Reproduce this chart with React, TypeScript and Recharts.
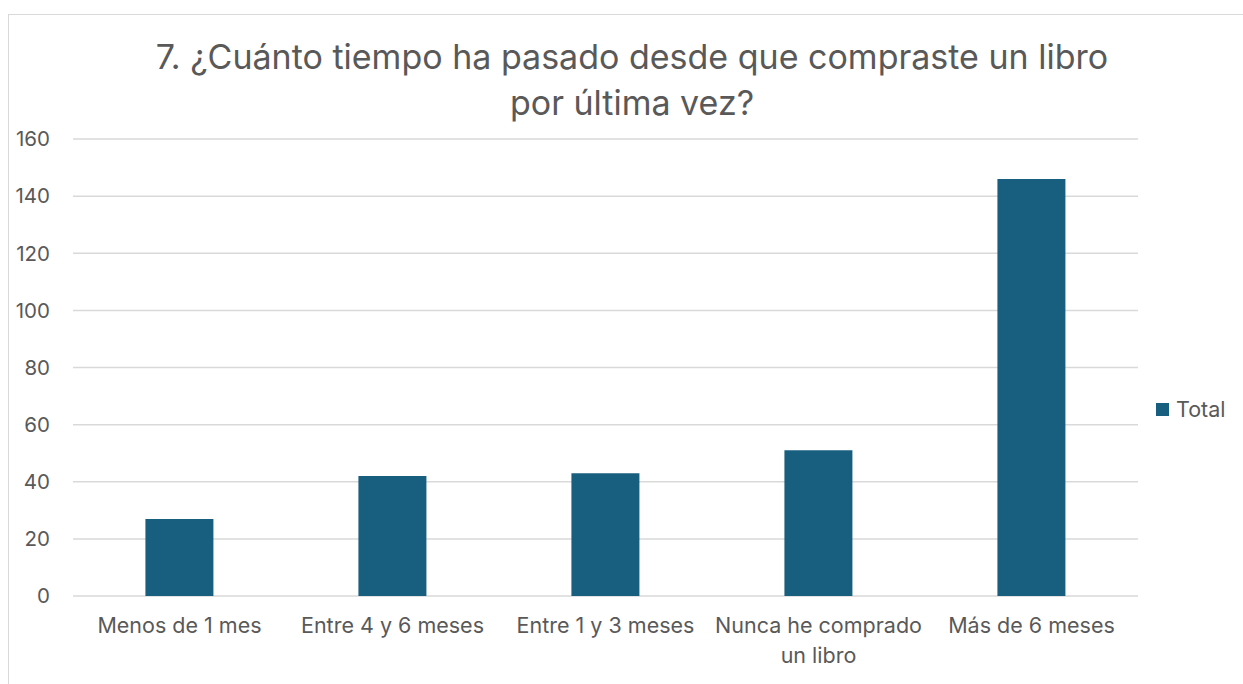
import { BarChart, Bar, XAxis, YAxis, CartesianGrid } from "recharts";

const categories = [
  "Menos de 1 mes",
  "Entre 4 y 6 meses",
  "Entre 1 y 3 meses",
  "Nunca he comprado un libro",
  "Más de 6 meses",
];
const totals = [27, 42, 43, 51, 146];
const yTicks = [0, 20, 40, 60, 80, 100, 120, 140, 160];

const data = categories.map((c, i) => ({ categoria: c, total: totals[i] }));

const font = "Inter, 'Open Sans', sans-serif";
const grey = "#595959";
const barColor = "#185f7f";

// split a label into lines of at most `max` characters
const wrap = (s: string, max: number) => {
  const lines: string[] = [];
  let cur = "";
  for (const w of s.split(" ")) {
    const next = cur ? cur + " " + w : w;
    if (next.length > max && cur) {
      lines.push(cur);
      cur = w;
    } else {
      cur = next;
    }
  }
  if (cur) lines.push(cur);
  return lines;
};

const CategoryTick = (props: any) => {
  const { x, y, payload } = props;
  const lines = wrap(String(payload.value), 18);
  return (
    <text x={x} y={y} textAnchor="middle" fill={grey} fontSize={21.5} fontFamily={font}>
      {lines.map((l, i) => (
        <tspan key={i} x={x} dy={i === 0 ? 21 : 30}>
          {l}
        </tspan>
      ))}
    </text>
  );
};

export default function App() {
  return (
    <div style={{ position: "absolute", left: 0, top: 0, width: 1243, height: 684, background: "#fff", overflow: "hidden" }}>
      <div
        style={{
          position: "absolute",
          left: 8,
          top: 14,
          width: 1300,
          height: 700,
          borderLeft: "1px solid #d9d9d9",
          borderTop: "1px solid #d9d9d9",
        }}
      />
      <div
        style={{
          position: "absolute",
          left: 82,
          width: 1100,
          top: 34,
          textAlign: "center",
          fontFamily: font,
          fontSize: 34,
          lineHeight: "46px",
          color: grey,
        }}
      >
        7. ¿Cuánto tiempo ha pasado desde que compraste un libro
        <br />
        por última vez?
      </div>
      <div style={{ position: "absolute", left: 0, top: 0 }}>
        <BarChart
          width={1243}
          height={684}
          data={data}
          margin={{ top: 139, right: 105, bottom: 58, left: 0 }}
          barCategoryGap="34%"
        >
          <CartesianGrid vertical={false} stroke="#d9d9d9" strokeWidth={1.5} />
          <XAxis
            dataKey="categoria"
            height={30}
            axisLine={false}
            tickLine={false}
            tickSize={0}
            tickMargin={16}
            interval={0}
            tick={<CategoryTick />}
          />
          <YAxis
            width={73}
            domain={[0, 160]}
            ticks={yTicks}
            axisLine={false}
            tickLine={false}
            tickSize={0}
            tickMargin={23}
            tick={{ fill: grey, fontSize: 20.5, fontFamily: font }}
          />
          <Bar dataKey="total" name="Total" fill={barColor} isAnimationActive={false} />
        </BarChart>
      </div>
      <div
        style={{
          position: "absolute",
          left: 1156,
          top: 396,
          display: "flex",
          alignItems: "center",
          fontFamily: font,
          fontSize: 21.5,
          color: grey,
        }}
      >
        <span style={{ width: 13, height: 13, background: barColor, display: "inline-block", marginRight: 7 }} />
        Total
      </div>
    </div>
  );
}
